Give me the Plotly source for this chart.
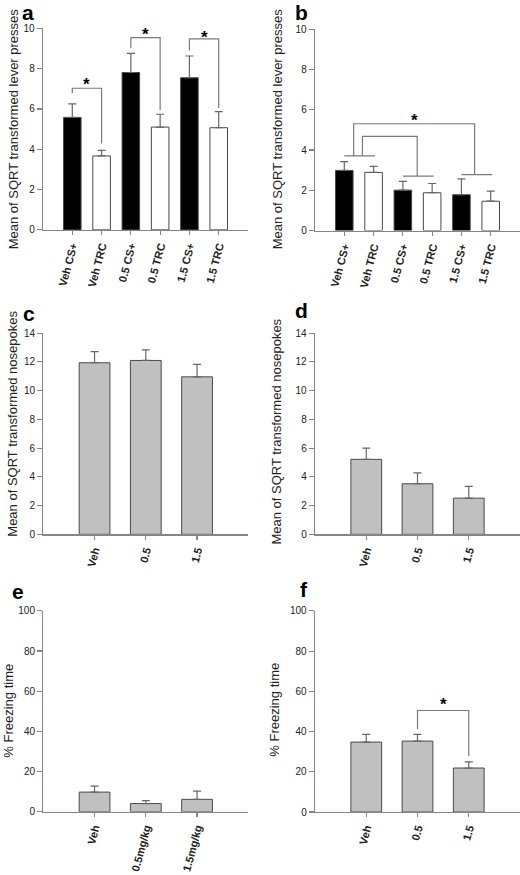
import plotly.graph_objects as go

# ---------------- data ----------------
a_labels = ["Veh CS+", "Veh TRC", "0.5 CS+", "0.5 TRC", "1.5 CS+", "1.5 TRC"]
a_means = [5.58, 3.67, 7.81, 5.10, 7.55, 5.07]
a_upper = [6.25, 3.95, 8.76, 5.74, 8.63, 5.87]
a_colors = ["black", "white", "black", "white", "black", "white"]

b_labels = ["Veh CS+", "Veh TRC", "0.5 CS+", "0.5 TRC", "1.5 CS+", "1.5 TRC"]
b_means = [2.99, 2.89, 2.01, 1.88, 1.78, 1.46]
b_upper = [3.43, 3.19, 2.45, 2.34, 2.57, 1.96]

c_labels = ["Veh", "0.5", "1.5"]
c_means = [11.94, 12.10, 10.96]
c_upper = [12.72, 12.84, 11.83]

d_labels = ["Veh", "0.5", "1.5"]
d_means = [5.22, 3.52, 2.52]
d_upper = [6.00, 4.28, 3.34]

e_labels = ["Veh", "0.5mg/kg", "1.5mg/kg"]
e_means = [9.8, 4.1, 6.2]
e_upper = [12.8, 5.6, 10.3]

f_labels = ["Veh", "0.5", "1.5"]
f_means = [34.8, 35.3, 21.9]
f_upper = [38.6, 38.6, 25.0]

# significance brackets (pair of bar indices, heights in data units)
a_sig_pairs = [(0, 1), (2, 3), (4, 5)]
a_sig_top = [7.03, 9.54, 9.48]
a_sig_left_end = [6.79, 9.02, 8.90]
a_sig_right_end = [4.29, 5.95, 6.05]
a_star_y = [7.44, 9.94, 9.80]

b_group_pairs = [(0, 1), (2, 3), (4, 5)]
b_group_y = [3.71, 2.71, 2.78]
b_comp_left_x = [0.62, 0.32]
b_comp_right_x = [2.49, 4.45]
b_comp_target = [1, 2]
b_comp_top = [4.68, 5.31]
b_star_x = 2.4
b_star_y = 5.72

f_sig_pairs = [(1, 2)]
f_sig_top = [50.5]
f_sig_left_end = [41.2]
f_sig_right_end = [27.9]
f_star_y = [56.2]

y_titles = ["Mean of SQRT transformed lever presses", "Mean of SQRT transformed lever presses",
            "Mean of SQRT transformed nosepokes", "Mean of SQRT transformed nosepokes",
            "% Freezing time", "% Freezing time"]
panel_letters = ["a", "b", "c", "d", "e", "f"]

# ---------------- layout helpers ----------------
W, H = 520, 875
FONT = "Liberation Sans, Arial, sans-serif"
AXC = "#858585"
EDGE = "#4a4a4a"
GRAY = "#c0c0c0"
BRK = "#7a7a7a"


def px(x):
    return x / W


def py(y):
    return 1 - y / H


fig = go.Figure()

panels = [
    # labels, means, upper, colors, xdomain px, ydomain px (top,bottom), yrange, dtick, xrange
    (a_labels, a_means, a_upper, a_colors, (43, 248), (22.7, 227.0), 10, 2, (-1, 6)),
    (b_labels, b_means, b_upper, a_colors, (315, 520), (23.7, 227.7), 10, 2, (-1, 6)),
    (c_labels, c_means, c_upper, [GRAY] * 3, (43.3, 248.3), (331.7, 535.7), 14, 2, (-1, 3)),
    (d_labels, d_means, d_upper, [GRAY] * 3, (315, 520), (331.7, 535.7), 14, 2, (-1, 3)),
    (e_labels, e_means, e_upper, [GRAY] * 3, (43.3, 248.3), (613.3, 817.0), 100, 20, (-1, 3)),
    (f_labels, f_means, f_upper, [GRAY] * 3, (315, 520), (613.3, 817.3), 100, 20, (-1, 3)),
]

layout = dict(
    width=W, height=H, autosize=False,
    margin=dict(l=0, r=0, t=0, b=0),
    paper_bgcolor="white", plot_bgcolor="white",
    showlegend=False,
    font=dict(family=FONT, color="#222222"),
    annotations=[],
)

for i, (labels, means, upper, colors, xd, yd, ymax, dt, xr) in enumerate(panels):
    n = i + 1
    xa = "x" if n == 1 else f"x{n}"
    ya = "y" if n == 1 else f"y{n}"
    idx = list(range(len(labels)))
    fig.add_trace(go.Bar(
        x=idx, y=means, width=0.6,
        marker=dict(color=colors, line=dict(color=EDGE, width=1)),
        error_y=dict(type="data", symmetric=False,
                     array=[u - m for u, m in zip(upper, means)],
                     arrayminus=[0] * len(means),
                     color="#666666", thickness=1.2, width=4),
        xaxis=xa, yaxis=ya, hoverinfo="skip",
    ))
    layout["xaxis" if n == 1 else f"xaxis{n}"] = dict(
        domain=[px(xd[0]), px(xd[1])], range=list(xr), anchor=ya,
        tickmode="array", tickvals=idx, ticktext=[f"<b>{t}</b>" for t in labels],
        tickangle=-75, ticks="outside", ticklen=4, tickcolor=AXC, tickwidth=1.2,
        showline=True, linecolor=AXC, linewidth=1.3, showgrid=False, zeroline=False,
        tickfont=dict(size=11, color="#222222", family=FONT), fixedrange=True,
    )
    layout["yaxis" if n == 1 else f"yaxis{n}"] = dict(
        domain=[py(yd[1]), py(yd[0])], range=[0, ymax], anchor=xa,
        tickmode="linear", tick0=0, dtick=dt,
        ticks="outside", ticklen=5, tickcolor=AXC, tickwidth=1.2,
        showline=True, linecolor=AXC, linewidth=1.3, showgrid=False, zeroline=False,
        tickfont=dict(size=10, color="#222222", family=FONT), fixedrange=True,
    )


def add_line(xs, ys, n):
    xa = "x" if n == 1 else f"x{n}"
    ya = "y" if n == 1 else f"y{n}"
    fig.add_trace(go.Scatter(x=xs, y=ys, mode="lines", line=dict(color=BRK, width=1.2),
                             xaxis=xa, yaxis=ya, hoverinfo="skip"))


def add_star(x, y, n):
    xa = "x" if n == 1 else f"x{n}"
    ya = "y" if n == 1 else f"y{n}"
    layout["annotations"].append(dict(
        x=x, y=y, xref=xa, yref=ya, text="<b>*</b>", showarrow=False,
        font=dict(size=17, color="black", family=FONT), yshift=-5,
        xanchor="center", yanchor="middle"))


# panel a brackets
for (l, r), top, le, re, sy in zip(a_sig_pairs, a_sig_top, a_sig_left_end, a_sig_right_end, a_star_y):
    add_line([l, l, r, r], [le, top, top, re], 1)
    add_star((l + r) / 2, sy, 1)

# panel b brackets
for (l, r), gy in zip(b_group_pairs, b_group_y):
    add_line([l, r + 0.05], [gy, gy], 2)
for lx, rx, tg, top in zip(b_comp_left_x, b_comp_right_x, b_comp_target, b_comp_top):
    add_line([lx, lx, rx, rx], [b_group_y[0], top, top, b_group_y[tg]], 2)
add_star(b_star_x, b_star_y, 2)

# panel f bracket
for (l, r), top, le, re, sy in zip(f_sig_pairs, f_sig_top, f_sig_left_end, f_sig_right_end, f_star_y):
    add_line([l, l, r, r], [le, top, top, re], 6)
    add_star((l + r) / 2, sy, 6)

# y-axis titles
title_pos = [(13, 125), (277, 125), (13, 423.5), (277, 431.5), (9, 714.5), (275, 713.5)]
for t, (x, y) in zip(y_titles, title_pos):
    layout["annotations"].append(dict(
        x=px(x), y=py(y), xref="paper", yref="paper", text=t, textangle=-90,
        showarrow=False, xanchor="center", yanchor="middle",
        font=dict(size=13, color="#222222", family=FONT)))

# panel letters (x center, baseline y)
letter_pos = [(27.5, 15), (301, 15), (29, 320), (301, 317), (18, 602), (304, 600)]
for t, (x, y) in zip(panel_letters, letter_pos):
    layout["annotations"].append(dict(
        x=px(x), y=py(y + 5), xref="paper", yref="paper", text=f"<b>{t}</b>",
        showarrow=False, xanchor="center", yanchor="bottom",
        font=dict(size=21, color="black", family=FONT)))

fig.update_layout(**layout)
fig.write_html(
    "out.html",
    config={"displayModeBar": False, "staticPlot": True},
    post_script="document.body.style.margin='0px';document.body.style.overflow='hidden';",
)
